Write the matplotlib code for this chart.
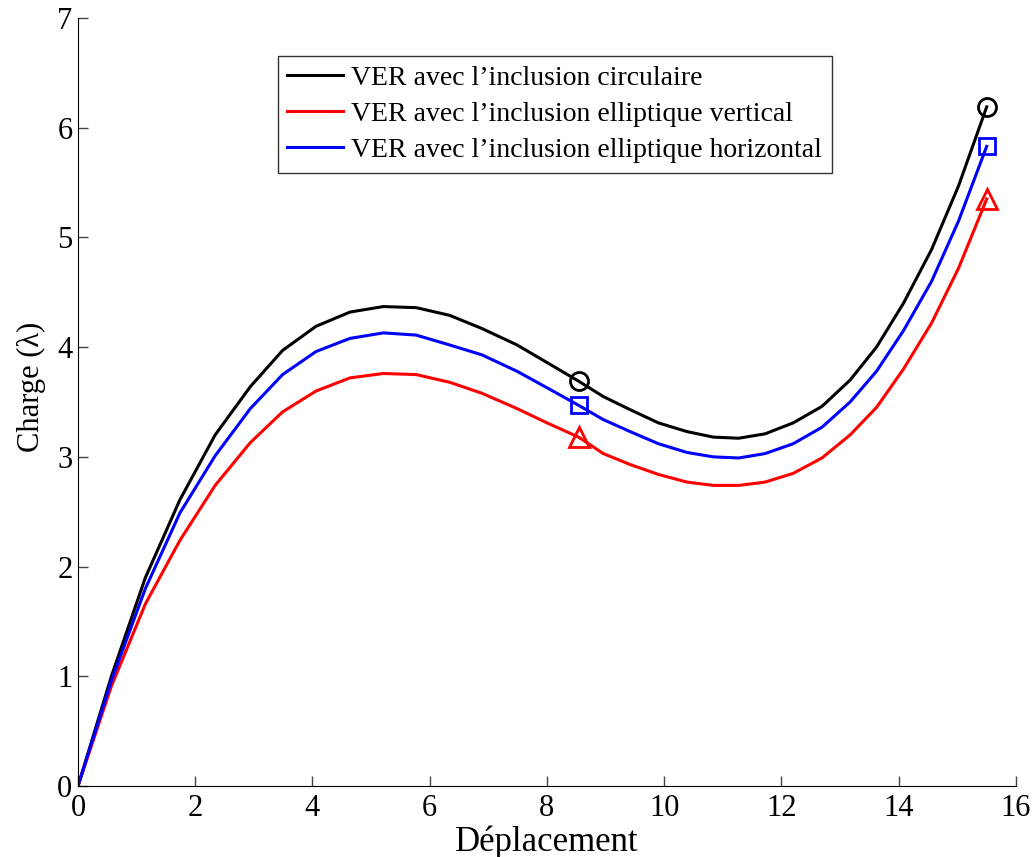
"""
Charge vs deplacement pour trois VER
"""
import numpy as np
import matplotlib
matplotlib.use("Agg")
import matplotlib.pyplot as plt

plt.rcParams['font.family'] = ['Liberation Serif', 'DejaVu Serif']

# Deplacement (shared by the three curves)
depl = [0, 0.57, 1.15, 1.74, 2.34, 2.94, 3.49, 4.06, 4.64, 5.21, 5.77, 6.34,
        6.89, 7.49, 8.0, 8.54, 8.96, 9.42, 9.90, 10.39, 10.84, 11.27, 11.72,
        12.2, 12.69, 13.17, 13.62, 14.08, 14.56, 15.02, 15.5]

charge_circ = [0, 1.00, 1.90, 2.61, 3.20, 3.64, 3.97, 4.19, 4.32, 4.37, 4.36, 4.29,
               4.17, 4.02, 3.86, 3.69, 3.55, 3.43, 3.31, 3.23, 3.18, 3.17, 3.21,
               3.31, 3.46, 3.70, 4.00, 4.40, 4.89, 5.47, 6.19]

charge_vert = [0, 0.91, 1.66, 2.24, 2.74, 3.13, 3.41, 3.60, 3.72, 3.76, 3.75, 3.68,
               3.58, 3.44, 3.31, 3.18, 3.03, 2.93, 2.84, 2.77, 2.74, 2.74, 2.77,
               2.85, 2.99, 3.20, 3.45, 3.80, 4.22, 4.72, 5.35]

charge_horiz = [0, 0.96, 1.80, 2.49, 3.01, 3.44, 3.75, 3.96, 4.08, 4.13, 4.11, 4.02,
                3.93, 3.78, 3.63, 3.47, 3.34, 3.23, 3.12, 3.04, 3.00, 2.99, 3.03,
                3.12, 3.27, 3.50, 3.78, 4.15, 4.60, 5.15, 5.83]

labels = ["VER avec l\u2019inclusion circulaire",
          "VER avec l\u2019inclusion elliptique vertical",
          "VER avec l\u2019inclusion elliptique horizontal"]

# indices where markers are drawn
mark_idx = [15, 30]


def main():
    fig = plt.figure(figsize=(10.34, 8.57), dpi=100)
    ax = fig.add_axes([0.0754, 0.0828, 0.9072, 0.8962])

    series = [(charge_circ, 'k', 'o', 13), (charge_vert, 'r', '^', 14), (charge_horiz, 'b', 's', 11)]
    x = np.array(depl)
    for (y, col, mk, ms), lab in zip(series, labels):
        y = np.array(y)
        ax.plot(x, y, '-', color=col, lw=2.2, label=lab)
        ax.plot(x[mark_idx], y[mark_idx], linestyle='none', marker=mk, ms=ms,
                mfc='none', mec=col, mew=2.0)

    ax.set_xlim(0, 16)
    ax.set_ylim(0, 7)
    ax.set_xticks(range(0, 17, 2))
    ax.set_yticks(range(0, 8))
    ax.spines['top'].set_visible(False)
    ax.spines['right'].set_visible(False)
    ax.tick_params(direction='in', length=7, width=1, labelsize=22, color='#444444')
    ax.tick_params(axis='x', pad=6)
    ax.tick_params(axis='y', pad=4)
    ax.set_xlabel("D\u00e9placement", fontsize=25, labelpad=1.5)
    ax.set_ylabel("Charge (\u03bb)", fontsize=22)
    ax.yaxis.set_label_coords(-0.034, 0.52)

    leg = ax.legend(loc='upper left', bbox_to_anchor=(0.213, 0.9505), borderaxespad=0,
                    fontsize=20, frameon=True, fancybox=False, handlelength=2.0,
                    handletextpad=0.3, borderpad=0.35, labelspacing=0.38)
    leg.get_frame().set_edgecolor('k')
    leg.get_frame().set_linewidth(1.0)

    fig.savefig("out.png", dpi=100)
    plt.close(fig)


if __name__ == '__main__':
    main()
